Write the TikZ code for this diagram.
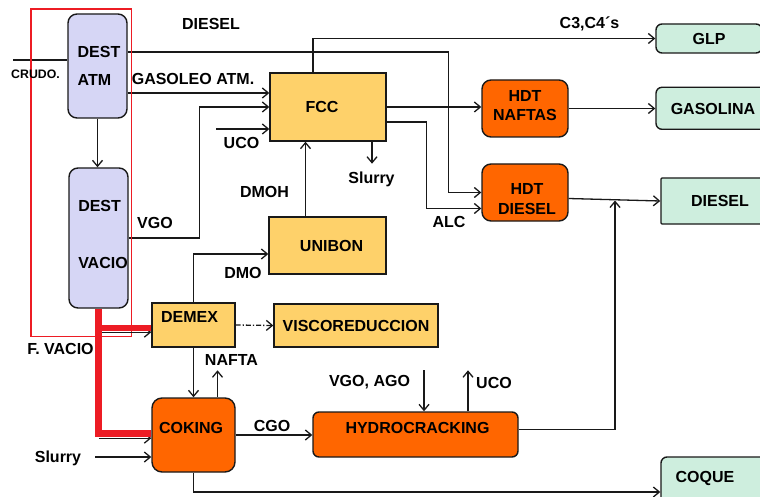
\documentclass[tikz,border=0pt]{standalone}
\usepackage{fontspec}
\setmainfont{Liberation Sans}
\usetikzlibrary{arrows.meta,calc}
\definecolor{lavc}{RGB}{214,214,245}
\definecolor{yelc}{RGB}{254,209,106}
\definecolor{orgc}{RGB}{255,102,0}
\definecolor{mintc}{RGB}{206,238,222}
\definecolor{redc}{RGB}{237,28,36}
\definecolor{linec}{RGB}{25,25,25}
\begin{document}
\begin{tikzpicture}[x=1pt,y=-1pt,
  bx/.style={draw=linec, line width=1.4pt, inner sep=0pt, font=\bfseries\fontsize{16}{19}\selectfont, text height=11.5pt, text depth=0pt},
  lav/.style={bx, fill=lavc, rounded corners=9pt},
  yel/.style={bx, fill=yelc},
  org/.style={bx, fill=orgc, rounded corners=9pt},
  mint/.style={bx, fill=mintc, rounded corners=6pt},
  mintsq/.style={bx, fill=mintc, rounded corners=1pt},
  lbl/.style={inner sep=0pt, font=\bfseries\fontsize{16}{19}\selectfont, text height=11.5pt, text depth=0pt},
  ml/.style={inner sep=0pt, align=center, font=\bfseries\fontsize{16}{19}\selectfont},
  ln/.style={draw=linec, line width=1.3pt},
  arr/.style={ln, -{Straight Barb[length=6pt,width=10pt]}},
  redl/.style={draw=redc, line width=6.5pt},
]
\clip (0,0) rectangle (760,497);
\fill[white] (0,0) rectangle (760,497);

% boxes
\node[lav, minimum width=59pt, minimum height=104pt,
  label={[ml, align=left, font=\bfseries\fontsize{16}{28}\selectfont, xshift=1.5pt]center:DEST\\ATM}] (atm) at (97.5,66) {};
\node[lav, minimum width=59pt, minimum height=140pt,
  label={[ml, align=left, font=\bfseries\fontsize{16}{57}\selectfont, xshift=4.5pt, yshift=3.5pt]center:DEST\\VACIO}] (vacio) at (98.5,238) {};
\node[yel, minimum width=116pt, minimum height=68pt,
  label={[lbl, xshift=-6pt]center:FCC}] (fcc) at (328,107) {};
\node[yel, minimum width=117pt, minimum height=57pt,
  label={[lbl, xshift=4pt]center:UNIBON}] (unibon) at (327.5,245.5) {};
\node[yel, minimum width=83pt, minimum height=44pt,
  label={[lbl, xshift=-4pt, yshift=8pt]center:DEMEX}] (demex) at (193.5,325) {};
\node[yel, minimum width=164pt, minimum height=43pt] (visco) at (356,325.5) {VISCOREDUCCION};
\node[org, minimum width=83pt, minimum height=74pt, rounded corners=10pt,
  label={[lbl, xshift=-2.5pt, yshift=7pt]center:COKING}] (coking) at (193.5,435) {};
\node[org, minimum width=205pt, minimum height=45pt, rounded corners=6pt,
  label={[lbl, xshift=2pt, yshift=6.5pt]center:HYDROCRACKING}] (hydro) at (415.5,434.5) {};
\node[org, minimum width=86pt, minimum height=57pt,
  label={[ml, yshift=3pt]center:HDT\\NAFTAS}] (hdtn) at (525,108.5) {};
\node[org, minimum width=86pt, minimum height=57pt,
  label={[ml, font=\bfseries\fontsize{16}{20}\selectfont, xshift=2pt, yshift=-6.5pt]center:HDT\\DIESEL}] (hdtd) at (525,192.5) {};
\node[mint, minimum width=106pt, minimum height=29pt] (glp) at (709,38.5) {GLP};
\node[mint, minimum width=114pt, minimum height=42pt] (gasolina) at (713,108.3) {GASOLINA};
\node[mintsq, minimum width=118pt, minimum height=46pt] (diesel) at (720,201) {DIESEL};
\node[mint, minimum width=118pt, minimum height=46pt,
  label={[lbl, xshift=-15pt, yshift=3pt]center:COQUE}] (coque) at (720,480) {};

% connectors
\coordinate (crudo) at (13,60);
\draw[ln] (crudo) -- (crudo -| atm.west);
\draw[arr] (atm.south) -- (atm.south |- vacio.north);
\draw[arr] ([yshift=14pt]atm.east) -| ($(hdtd.west)+(-32.5,0)$) -- (hdtd.west);
\draw[arr] ([yshift=-27pt]atm.east) -- ([yshift=14pt]fcc.west);
\draw[arr] (vacio.east) -| ($(fcc.west)+(-70,0)$) -- (fcc.west);
\coordinate (ucoA) at (216,129);
\draw[arr] (ucoA) -- (ucoA -| fcc.west);
\draw[arr] ([xshift=-15pt]fcc.north) |- (glp.west);
\draw[arr] (fcc.east) -- (fcc.east -| hdtn.west);
\draw[arr] (hdtn.east) -- (hdtn.east -| gasolina.west);
\draw[arr] ([yshift=-15pt]fcc.east) -| ($(hdtd.west)+(-54.5,16)$) -- ([yshift=-16pt]hdtd.west);
\draw[arr] ([xshift=44pt]fcc.south) -- ++(0,22);
\draw[arr] ([xshift=-22pt]unibon.north) -- ([xshift=-22pt]unibon.north |- fcc.south);
\draw[arr] (demex.north) |- ([yshift=-8.5pt]unibon.west);
\draw[ln, dash pattern=on 5pt off 2pt on 1.2pt off 2pt, -{Straight Barb[length=6pt,width=10pt]}] (demex.east) -- (visco.west);
\draw[arr] (demex.south) -- (coking.north);
\draw[arr] ([xshift=24pt]coking.north) -- ++(0,-27);
\coordinate (slC) at (95,457);
\draw[arr] (slC) -- (slC -| coking.west);
\draw[arr] (coking.east) -- (coking.east -| hydro.west);
\coordinate (vgoA) at (424,370);
\draw[arr] (vgoA) -- (vgoA |- hydro.north);
\draw[arr] ([xshift=52.5pt]hydro.north) -- ++(0,-41);
\coordinate (join) at (615,200.5);
\draw[arr] ([yshift=5pt]hydro.east) -| (join);
\draw[arr] ([yshift=-6pt]hdtd.east) -- (diesel.west);
\draw[arr] (coking.south) |- ([yshift=-12pt]coque.west);

% red frame and vacuum residue lines
\draw[redc, line width=1.5pt] (31,9) rectangle (131.5,336.5);
\coordinate (rA) at ($(vacio.south)+(0,23.5)$);
\draw[arr] (rA) -- (rA -| demex.west);
\coordinate (rC) at ($(vacio.south)+(0,129.5)$);
\draw[arr] (rC) -- (rC -| coking.west);
\draw[redl] (vacio.south) |- ([yshift=1.5pt]coking.west);
\coordinate (rB) at ($(demex.west)+(0,3)$);
\draw[redl] (rB) -- (rB -| vacio.south);

% labels
\node[lbl] (tDiesel) at (211,24) {DIESEL};
\node[lbl, font=\bfseries\fontsize{12.3}{14}\selectfont, text height=8.8pt] (tCrudo) at (35.5,74) {CRUDO.};
\node[lbl] (tGasoleo) at (193,79) {GASOLEO ATM.};
\node[lbl] (tUco1) at (241.5,143) {UCO};
\node[lbl] (tSlurry1) at (371.5,178) {Slurry};
\node[lbl] (tDmoh) at (264.5,192) {DMOH};
\node[lbl] (tAlc) at (449,222) {ALC};
\node[lbl] (tC3) at (589.5,23) {C3,C4´s};
\node[lbl] (tVgo) at (155,223) {VGO};
\node[lbl] (tDmo) at (243,273) {DMO};
\node[lbl] (tFvacio) at (60.5,349) {F. VACIO};
\node[lbl] (tNafta) at (231.5,360) {NAFTA};
\node[lbl] (tSlurry2) at (58,457) {Slurry};
\node[lbl] (tCgo) at (272,426) {CGO};
\node[lbl] (tVgoago) at (369.5,381) {VGO, AGO};
\node[lbl] (tUco2) at (494,383) {UCO};
\end{tikzpicture}
\end{document}
